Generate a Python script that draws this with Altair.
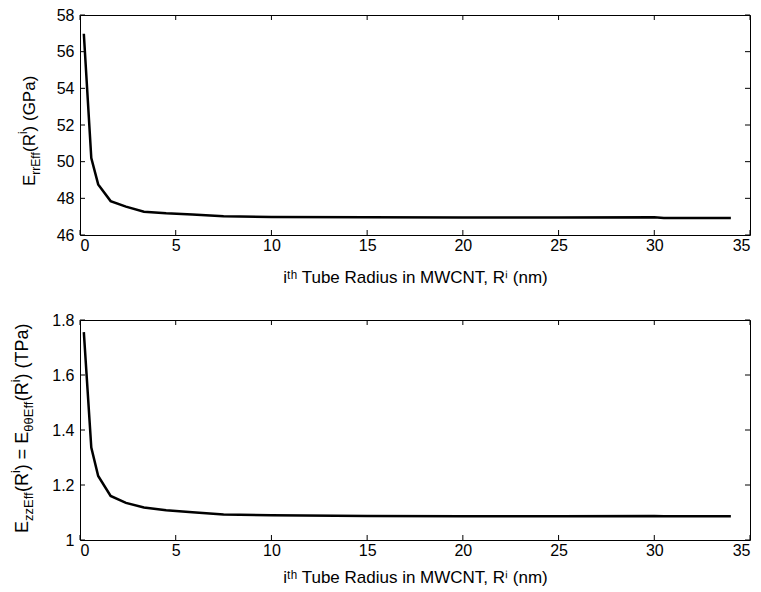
import altair as alt
import pandas as pd

# ---- data ----
radius = [0.2, 0.59, 0.95, 1.6, 2.4, 3.34, 4.5, 5.87, 7.5, 10, 15, 20, 25, 30, 30.5, 34]
e_rr = [56.98, 50.2, 48.76, 47.85, 47.55, 47.27, 47.18, 47.12, 47.02, 46.98, 46.97,
        46.96, 46.96, 46.97, 46.93, 46.93]
e_zz = [1.756, 1.336, 1.233, 1.16, 1.135, 1.118, 1.108, 1.101, 1.093, 1.09, 1.087,
        1.086, 1.086, 1.087, 1.086, 1.086]
x_ticks = [0, 5, 10, 15, 20, 25, 30, 35]
y_top_ticks = [46, 48, 50, 52, 54, 56, 58]
y_bot_ticks = [1, 1.2, 1.4, 1.6, 1.8]
x_title = "iᵗʰ Tube Radius in MWCNT, Rⁱ (nm)"
top_title = [("E", "n"), ("rrEff", "sub"), ("(R", "n"), ("i", "sup"), (")  (GPa)", "n")]
bot_title = [("E", "n"), ("zzEff", "sub"), ("(R", "n"), ("i", "sup"), (") = E", "n"),
             ("θθEff", "sub"), ("(R", "n"), ("i", "sup"), (") (TPa)", "n")]

FONT = "Liberation Sans"
W, H = 670, 220
CHAR_W = {'E': .667, 'r': .333, 'f': .278, '(': .333, ')': .333, 'R': .722, 'i': .222,
          ' ': .278, 'G': .778, 'P': .667, 'a': .556, 'z': .5, 'θ': .556, '=': .584, 'T': .611}

anchor_df = pd.DataFrame({"a": [0]})


def rich_vertical(pieces, x_base, y_start, size=17, small=12):
    layers = []
    y = y_start
    for text, kind in pieces:
        fs = size if kind == "n" else small
        dx = {"n": 0, "sub": 5, "sup": -8}[kind]
        layers.append(
            alt.Chart(anchor_df).mark_text(
                text=text, angle=270, align="left", baseline="alphabetic",
                fontSize=fs, font=FONT, color="black"
            ).encode(x=alt.value(x_base + dx), y=alt.value(y))
        )
        y -= sum(CHAR_W.get(c, 0.55) for c in text) * fs
    return layers


def panel(values, ydom, yticks, title_pieces, x_base, y_start, size, small, tpad,
          anchor=False):
    df = pd.DataFrame({"r": radius, "v": values})
    xs = alt.Scale(domain=[0, 35], nice=False, zero=False)
    ys = alt.Scale(domain=ydom, nice=False, zero=False)
    xax = alt.Axis(values=x_ticks, title=x_title, format="d", labelPadding=2,
                   titlePadding=tpad)
    yax = alt.Axis(values=yticks, title=None, format="~g")
    line = alt.Chart(df).mark_line(color="black", strokeWidth=2.5).encode(
        x=alt.X("r:Q", scale=xs, axis=xax),
        y=alt.Y("v:Q", scale=ys, axis=yax),
    )
    xt = pd.DataFrame({"r": x_ticks})
    yt = pd.DataFrame({"v": yticks})
    tick_style = dict(color="black", strokeWidth=1)
    xb = alt.Chart(xt).mark_rule(**tick_style).encode(
        x=alt.X("r:Q", scale=xs, axis=xax), y=alt.value(H - 5), y2=alt.value(H))
    xtp = alt.Chart(xt).mark_rule(**tick_style).encode(
        x=alt.X("r:Q", scale=xs, axis=xax), y=alt.value(0), y2=alt.value(5))
    yl = alt.Chart(yt).mark_rule(**tick_style).encode(
        y=alt.Y("v:Q", scale=ys, axis=yax), x=alt.value(0), x2=alt.value(5))
    yr = alt.Chart(yt).mark_rule(**tick_style).encode(
        y=alt.Y("v:Q", scale=ys, axis=yax), x=alt.value(W - 5), x2=alt.value(W))
    layers = [line, xb, xtp, yl, yr] + rich_vertical(title_pieces, x_base, y_start, size, small)
    if anchor:
        layers.append(alt.Chart(anchor_df).mark_rule(strokeOpacity=0).encode(
            x=alt.value(-79), x2=alt.value(-78), y=alt.value(-14), y2=alt.value(-13)))
    return alt.layer(*layers).properties(width=W, height=H)


top = panel(e_rr, [46, 58], y_top_ticks, top_title, -45, 171, 17, 12, 16, anchor=True)
bot = panel(e_zz, [1, 1.8], y_bot_ticks, bot_title, -52, 213, 18, 13, 11)

chart = alt.vconcat(top, bot, spacing=85, bounds="flush").properties(
    padding={"left": 0, "top": 0, "right": 5, "bottom": 2},
    background="white",
).configure_view(stroke="black", strokeWidth=1).configure_axis(
    grid=False, domain=False, ticks=False,
    labelFont=FONT, labelFontSize=16, labelColor="black", labelPadding=6,
    titleFont=FONT, titleFontSize=17, titleColor="black", titleFontWeight="normal",
)

chart.save("out.html", embed_options={"renderer": "svg", "actions": False})
